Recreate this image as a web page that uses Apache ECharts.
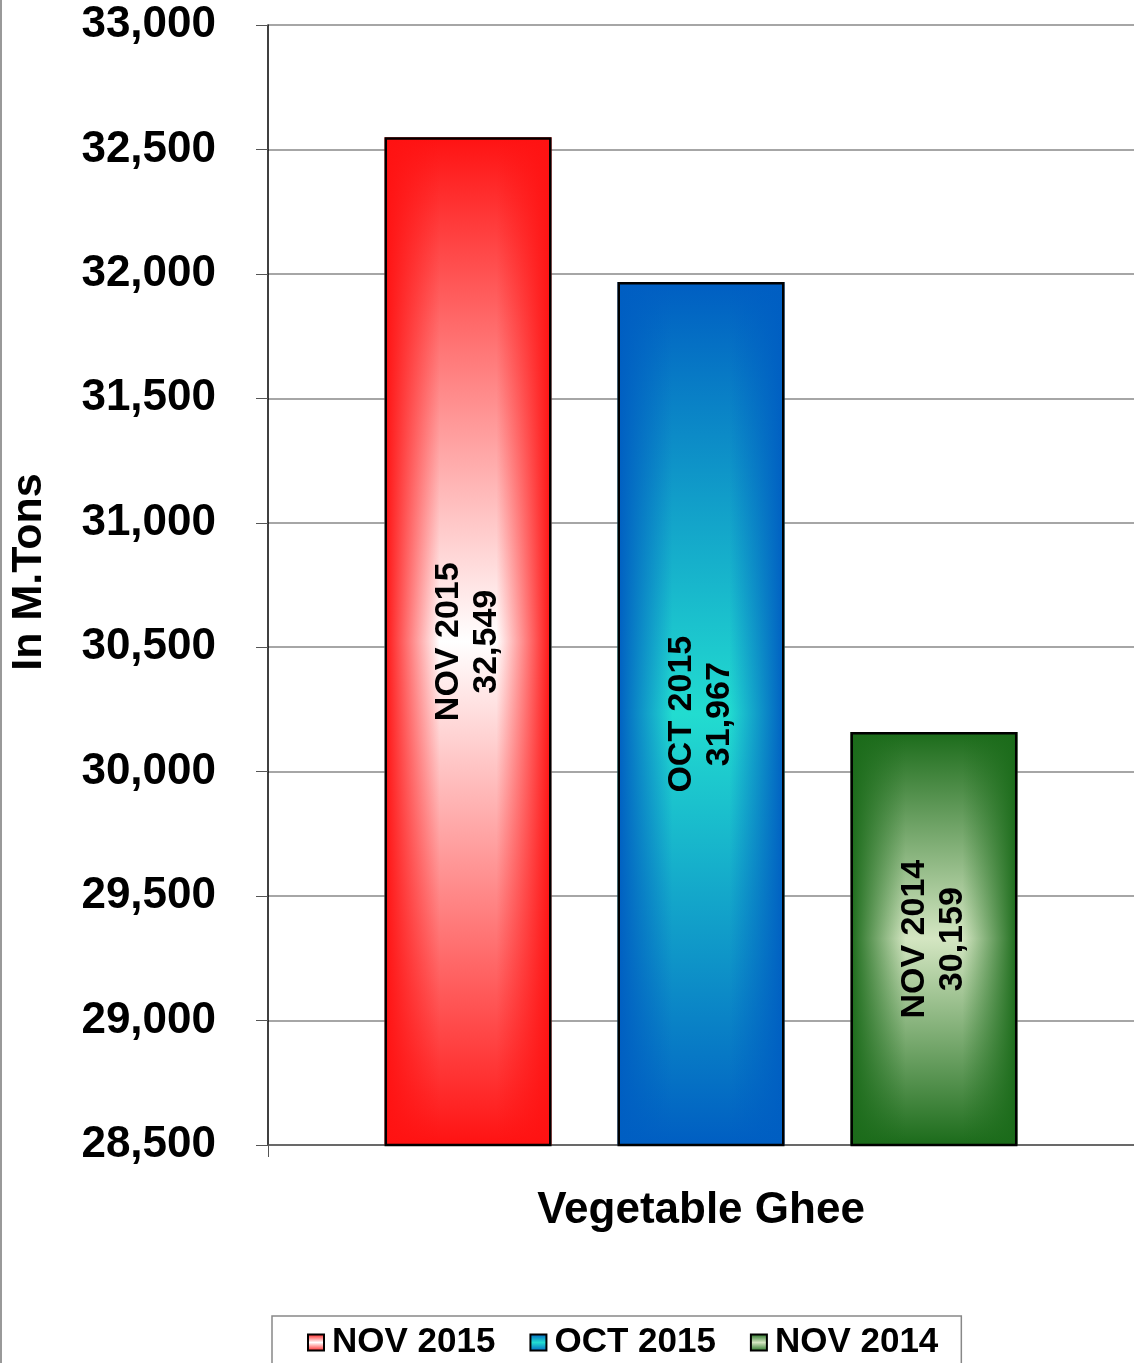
<!DOCTYPE html>
<html>
<head>
<meta charset="utf-8">
<script src="https://cdn.jsdelivr.net/npm/echarts@6/dist/echarts.min.js"></script>
<style>
html,body{margin:0;padding:0;background:#fff;}
#chart{width:1134px;height:1363px;}
</style>
</head>
<body>
<div id="chart"></div>
<script>
const categories = ['Vegetable Ghee'];
const seriesNames = ['NOV 2015', 'OCT 2015', 'NOV 2014'];
const values = [32549, 31967, 30159];
const yMin = 28500;
const yMax = 33000;
const yStep = 500;

const FONT = "'Liberation Sans', Arial, Helvetica, sans-serif";
const palettes = [
  {edge: '#ff1212', mid: '#ffffff', edgeT: 'rgba(255,18,18,0)'},
  {edge: '#005ec2', mid: '#22dcd0', edgeT: 'rgba(0,94,194,0)'},
  {edge: '#1b6b1a', mid: '#d4e6c2', edgeT: 'rgba(27,107,26,0)'}
];
function vGrad(p) {
  return new echarts.graphic.LinearGradient(0, 0, 0, 1, [
    {offset: 0, color: p.edge},
    {offset: 0.5, color: p.mid},
    {offset: 1, color: p.edge}
  ]);
}
function hGrad(p) {
  return new echarts.graphic.LinearGradient(0, 0, 1, 0, [
    {offset: 0, color: p.edge},
    {offset: 0.33, color: p.edgeT},
    {offset: 0.67, color: p.edgeT},
    {offset: 1, color: p.edge}
  ]);
}
function fmt(v) { return v.toLocaleString('en-US'); }

const barWidth = 167;
const barGap = '39.5%';
const series = [];
seriesNames.forEach((n, i) => {
  series.push({
    name: n, type: 'bar', xAxisIndex: 0, z: 2,
    barWidth: barWidth, barGap: barGap,
    data: [values[i]],
    itemStyle: {color: vGrad(palettes[i])},
    silent: true
  });
});
seriesNames.forEach((n, i) => {
  series.push({
    name: '_overlay' + i, type: 'bar', xAxisIndex: 1, z: 3,
    barWidth: barWidth, barGap: barGap,
    data: [values[i]],
    itemStyle: {color: hGrad(palettes[i]), borderColor: '#000', borderWidth: 2.5},
    label: {
      show: true, position: 'inside', rotate: 90,
      formatter: () => n + '\n' + fmt(values[i]),
      fontFamily: FONT, fontWeight: 'bold', fontSize: 34, lineHeight: 38,
      color: '#000'
    },
    silent: true
  });
});

const chart = echarts.init(document.getElementById('chart'), null, {renderer: 'canvas'});
chart.setOption({
  animation: false,
  backgroundColor: '#fff',
  grid: {left: 264, right: -10, top: 25, bottom: 218, containLabel: false},
  legend: {
    data: seriesNames.map(n => ({name: n, itemStyle: {borderColor: '#000', borderWidth: 2}})),
    top: 1316, left: 272,
    padding: [9, 23, 40, 35],
    itemWidth: 16, itemHeight: 16, itemGap: 34,
    borderColor: '#888', borderWidth: 1.5,
    icon: 'rect',
    textStyle: {fontFamily: FONT, fontWeight: 'bold', fontSize: 35, color: '#000', padding: [0, 0, 0, 3]}
  },
  xAxis: [{
    type: 'category', data: categories,
    name: 'Vegetable Ghee', nameLocation: 'middle', nameGap: 44,
    nameTextStyle: {fontFamily: FONT, fontWeight: 'bold', fontSize: 44, color: '#000'},
    axisLine: {show: true, lineStyle: {color: '#555', width: 1.5}},
    axisTick: {show: true, length: 12, lineStyle: {color: '#555'}},
    axisLabel: {show: false}
  }, {
    type: 'category', data: categories, show: false
  }],
  yAxis: {
    type: 'value', min: yMin, max: yMax, interval: yStep,
    name: 'In M.Tons', nameLocation: 'middle', nameRotate: 90, nameGap: 217,
    nameTextStyle: {fontFamily: FONT, fontWeight: 'bold', fontSize: 43, color: '#000', padding: [0, 0, 0, 26]},
    axisLine: {show: true, lineStyle: {color: '#000', width: 1.5}},
    axisTick: {show: true, length: 12, lineStyle: {color: '#555'}},
    axisLabel: {
      margin: 52, fontFamily: FONT, fontWeight: 'bold', fontSize: 44, color: '#000',
      formatter: v => fmt(v)
    },
    splitLine: {show: true, lineStyle: {color: '#888', width: 1.5}}
  },
  graphic: [{
    type: 'line', shape: {x1: 1, y1: 0, x2: 1, y2: 1363},
    style: {stroke: '#999', lineWidth: 2}
  }],
  series: series
});
</script>
</body>
</html>
